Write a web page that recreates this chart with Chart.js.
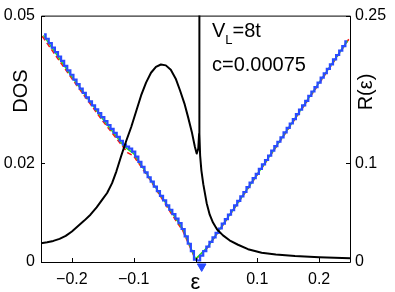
<!DOCTYPE html>
<html>
<head>
<meta charset="utf-8">
<script src="https://cdn.jsdelivr.net/npm/chart.js@4.4.1/dist/chart.umd.min.js"></script>
<style>
  html, body { margin: 0; padding: 0; background: #fff; }
  #c { display: block; }
</style>
</head>
<body>
<canvas id="c" width="395" height="292"></canvas>
<script>
// x ticks, left (DOS) ticks, right R(eps) ticks
const xTicks = [-0.2, -0.1, 0, 0.1, 0.2];
const dosTicks = [0, 0.02, 0.05];
const rTicks = [0, 0.1, 0.25];

// blue staircase (DOS)
const stepEps = [-0.245, -0.240, -0.235, -0.230, -0.225, -0.220, -0.215, -0.210, -0.205, -0.200,
  -0.195, -0.190, -0.185, -0.180, -0.175, -0.170, -0.165, -0.160, -0.155, -0.150,
  -0.145, -0.140, -0.135, -0.130, -0.125, -0.120, -0.115, -0.110, -0.105, -0.100,
  -0.095, -0.090, -0.085, -0.080, -0.075, -0.070, -0.065, -0.060, -0.055, -0.050,
  -0.045, -0.040, -0.035, -0.030, -0.025, -0.020, -0.015, -0.010, -0.005, 0.000,
  0.005, 0.010, 0.015, 0.020, 0.025, 0.030, 0.035, 0.040, 0.045, 0.050,
  0.055, 0.060, 0.065, 0.070, 0.075, 0.080, 0.085, 0.090, 0.095, 0.100,
  0.105, 0.110, 0.115, 0.120, 0.125, 0.130, 0.135, 0.140, 0.145, 0.150,
  0.155, 0.160, 0.165, 0.170, 0.175, 0.180, 0.185, 0.190, 0.195, 0.200,
  0.205, 0.210, 0.215, 0.220, 0.225, 0.230, 0.235, 0.240, 0.245];
const stepDos = [0.0462, 0.0453, 0.0444, 0.0435, 0.0426, 0.0417, 0.0408, 0.0398, 0.0389, 0.0380,
  0.0370, 0.0361, 0.0352, 0.0343, 0.0334, 0.0326, 0.0318, 0.0310, 0.0302, 0.0294,
  0.0286, 0.0278, 0.0270, 0.0262, 0.0254, 0.0246, 0.0238, 0.0234, 0.0230, 0.0224,
  0.0214, 0.0203, 0.0193, 0.0182, 0.0172, 0.0163, 0.0153, 0.0144, 0.0134, 0.0125,
  0.0115, 0.0106, 0.0097, 0.0088, 0.0079, 0.0067, 0.0052, 0.0037, 0.0022, 0.0005,
  0.0003, 0.0013, 0.0022, 0.0031, 0.0041, 0.0050, 0.0059, 0.0068, 0.0078, 0.0087,
  0.0096, 0.0105, 0.0115, 0.0124, 0.0133, 0.0142, 0.0152, 0.0161, 0.0170, 0.0179,
  0.0189, 0.0198, 0.0207, 0.0216, 0.0226, 0.0235, 0.0244, 0.0253, 0.0263, 0.0272,
  0.0281, 0.0290, 0.0300, 0.0309, 0.0318, 0.0327, 0.0337, 0.0346, 0.0355, 0.0364,
  0.0374, 0.0383, 0.0392, 0.0401, 0.0411, 0.0420, 0.0429, 0.0438, 0.0448];

// red dashed and green reference lines (DOS)
const redEps = [-0.248, -0.200, -0.150, -0.110, -0.100, -0.074, -0.040, -0.020, 0.000, 0.020, 0.100, 0.200, 0.248];
const redDos = [0.0458, 0.0372, 0.0286, 0.0222, 0.0215, 0.0168, 0.0100, 0.0062, 0.0005, 0.0030, 0.0177, 0.0362, 0.0452];
const greenEps = [-0.246, -0.200, -0.150, -0.115, -0.100, -0.074, -0.040, -0.020, 0.000, 0.020, 0.100, 0.200, 0.246];
const greenDos = [0.0460, 0.0376, 0.0290, 0.0234, 0.0220, 0.0170, 0.0104, 0.0066, 0.0006, 0.0031, 0.0178, 0.0364, 0.0449];

// black curve R(eps)
const rEps = [-0.250, -0.240, -0.230, -0.220, -0.210, -0.200, -0.190, -0.180, -0.170, -0.160,
  -0.150, -0.143, -0.135, -0.128, -0.120, -0.112, -0.104, -0.096, -0.088, -0.080,
  -0.072, -0.064, -0.056, -0.048, -0.040, -0.032, -0.025, -0.018, -0.012, -0.006,
  -0.001, 0.0019, 0.0045, 0.0058, 0.0060, 0.0063, 0.0066, 0.0075, 0.0095, 0.0126,
  0.0181, 0.0230, 0.0283, 0.035, 0.0445, 0.055, 0.0688, 0.085, 0.107, 0.130,
  0.161, 0.200, 0.250];
const rVal = [0.0189, 0.0200, 0.0214, 0.0235, 0.0265, 0.0310, 0.0365, 0.0420, 0.0480, 0.0555,
  0.0640, 0.0700, 0.0800, 0.0920, 0.1080, 0.1230, 0.1370, 0.1530, 0.1690, 0.1820,
  0.1920, 0.1980, 0.2004, 0.1995, 0.1950, 0.1860, 0.1740, 0.1610, 0.1470, 0.1320,
  0.1170, 0.1100, 0.1150, 0.1300, 0.3000, 0.3000, 0.1300, 0.1080, 0.0930, 0.0790,
  0.0597, 0.0480, 0.0400, 0.0330, 0.0270, 0.0220, 0.0175, 0.0130, 0.0094, 0.0075,
  0.0060, 0.0048, 0.0037];

// blue marker at the bottom
const markEps = [0.010];
const markDos = [-0.0009];

const pts = (xs, ys) => xs.map((x, i) => ({ x: x, y: ys[i] }));
const fmt = v => v < 0 ? '\u2212' + Math.abs(v) : String(v);
const FONT = '"Liberation Sans", Arial, Helvetica, sans-serif';

const frame = {
  id: 'frame',
  afterDatasetsDraw(chart) {
    const ctx = chart.ctx;
    const a = chart.chartArea;
    const sx = chart.scales.x, sy = chart.scales.y, sr = chart.scales.y2;
    ctx.save();
    ctx.strokeStyle = '#000';
    ctx.lineWidth = 1;
    ctx.beginPath();
    ctx.rect(a.left + 0.5, a.top + 0.5, a.right - a.left, a.bottom - a.top);
    xTicks.forEach(v => {
      const px = Math.round(sx.getPixelForValue(v)) + 0.5;
      ctx.moveTo(px, a.bottom); ctx.lineTo(px, a.bottom - 4);
    });
    dosTicks.forEach(v => {
      const py = Math.round(sy.getPixelForValue(v)) + 0.5;
      ctx.moveTo(a.left, py); ctx.lineTo(a.left + 4, py);
    });
    rTicks.forEach(v => {
      const py = Math.round(sr.getPixelForValue(v)) + 0.5;
      ctx.moveTo(a.right, py); ctx.lineTo(a.right - 4, py);
    });
    ctx.stroke();

    ctx.fillStyle = '#000';
    // axis titles, both read bottom to top
    ctx.font = '20px ' + FONT;
    ctx.textAlign = 'center';
    ctx.textBaseline = 'middle';
    ctx.save();
    ctx.translate(21, 91);
    ctx.rotate(-Math.PI / 2);
    ctx.fillText('DOS', 0, 0);
    ctx.restore();
    ctx.save();
    ctx.translate(366, 92);
    ctx.rotate(-Math.PI / 2);
    ctx.fillText('R(\u03b5)', 0, 0);
    ctx.restore();

    // annotation
    ctx.textAlign = 'left';
    ctx.textBaseline = 'alphabetic';
    ctx.font = '20px ' + FONT;
    ctx.fillText('V', 212, 37);
    const wV = ctx.measureText('V').width;
    ctx.font = '13px ' + FONT;
    ctx.fillText('L', 212 + wV, 44);
    const wL = ctx.measureText('L').width;
    ctx.font = '20px ' + FONT;
    ctx.fillText('=8t', 212 + wV + wL, 37);
    ctx.fillText('c=0.00075', 212, 71);
    ctx.restore();
  }
};

new Chart(document.getElementById('c'), {
  type: 'line',
  data: {
    datasets: [
      {
        data: pts(rEps, rVal), yAxisID: 'y2', order: 0,
        borderColor: '#000', borderWidth: 2, pointRadius: 0,
        borderJoinStyle: 'round'
      },
      {
        data: pts(markEps, markDos), yAxisID: 'y', order: 1, showLine: false,
        pointStyle: 'triangle', rotation: 180, pointRadius: 5,
        backgroundColor: '#2a4bff', borderColor: '#2a4bff', clip: false
      },
      {
        data: pts(stepEps, stepDos), yAxisID: 'y', order: 2,
        borderColor: '#2a4bff', borderWidth: 2.2, pointRadius: 0, stepped: 'middle'
      },
      {
        data: pts(greenEps, greenDos), yAxisID: 'y', order: 3,
        borderColor: '#22dd22', borderWidth: 1.5, pointRadius: 0
      },
      {
        data: pts(redEps, redDos), yAxisID: 'y', order: 4,
        borderColor: '#ff1010', borderWidth: 1.5, pointRadius: 0, borderDash: [5, 3]
      }
    ]
  },
  options: {
    responsive: false,
    animation: false,
    devicePixelRatio: 1,
    layout: { padding: { top: 15, left: 0, right: 0, bottom: 0 } },
    plugins: { legend: { display: false }, tooltip: { enabled: false } },
    scales: {
      x: {
        type: 'linear', min: -0.25, max: 0.25,
        afterBuildTicks: s => { s.ticks = xTicks.map(v => ({ value: v })); },
        afterFit: s => { s.height = 30; },
        grid: { display: false, drawTicks: false },
        border: { display: false },
        ticks: {
          padding: 8, color: '#000', maxRotation: 0, autoSkip: false,
          font: c => (c.tick && c.tick.value === 0) ? { family: FONT, size: 22 } : { family: FONT, size: 16 },
          callback: v => v === 0 ? '\u03b5' : fmt(v)
        }
      },
      y: {
        position: 'left', min: 0, max: 0.05,
        afterBuildTicks: s => { s.ticks = dosTicks.map(v => ({ value: v })); },
        afterFit: s => { s.width = 41; },
        grid: { display: false, drawTicks: false },
        border: { display: false },
        ticks: { padding: 6, color: '#000', font: { family: FONT, size: 16 }, callback: v => fmt(v) }
      },
      y2: {
        position: 'right', min: 0, max: 0.25,
        afterBuildTicks: s => { s.ticks = rTicks.map(v => ({ value: v })); },
        afterFit: s => { s.width = 45; },
        grid: { display: false, drawTicks: false },
        border: { display: false },
        ticks: { padding: 5, color: '#000', font: { family: FONT, size: 16 }, callback: v => fmt(v) }
      }
    }
  },
  plugins: [frame]
});
</script>
</body>
</html>
